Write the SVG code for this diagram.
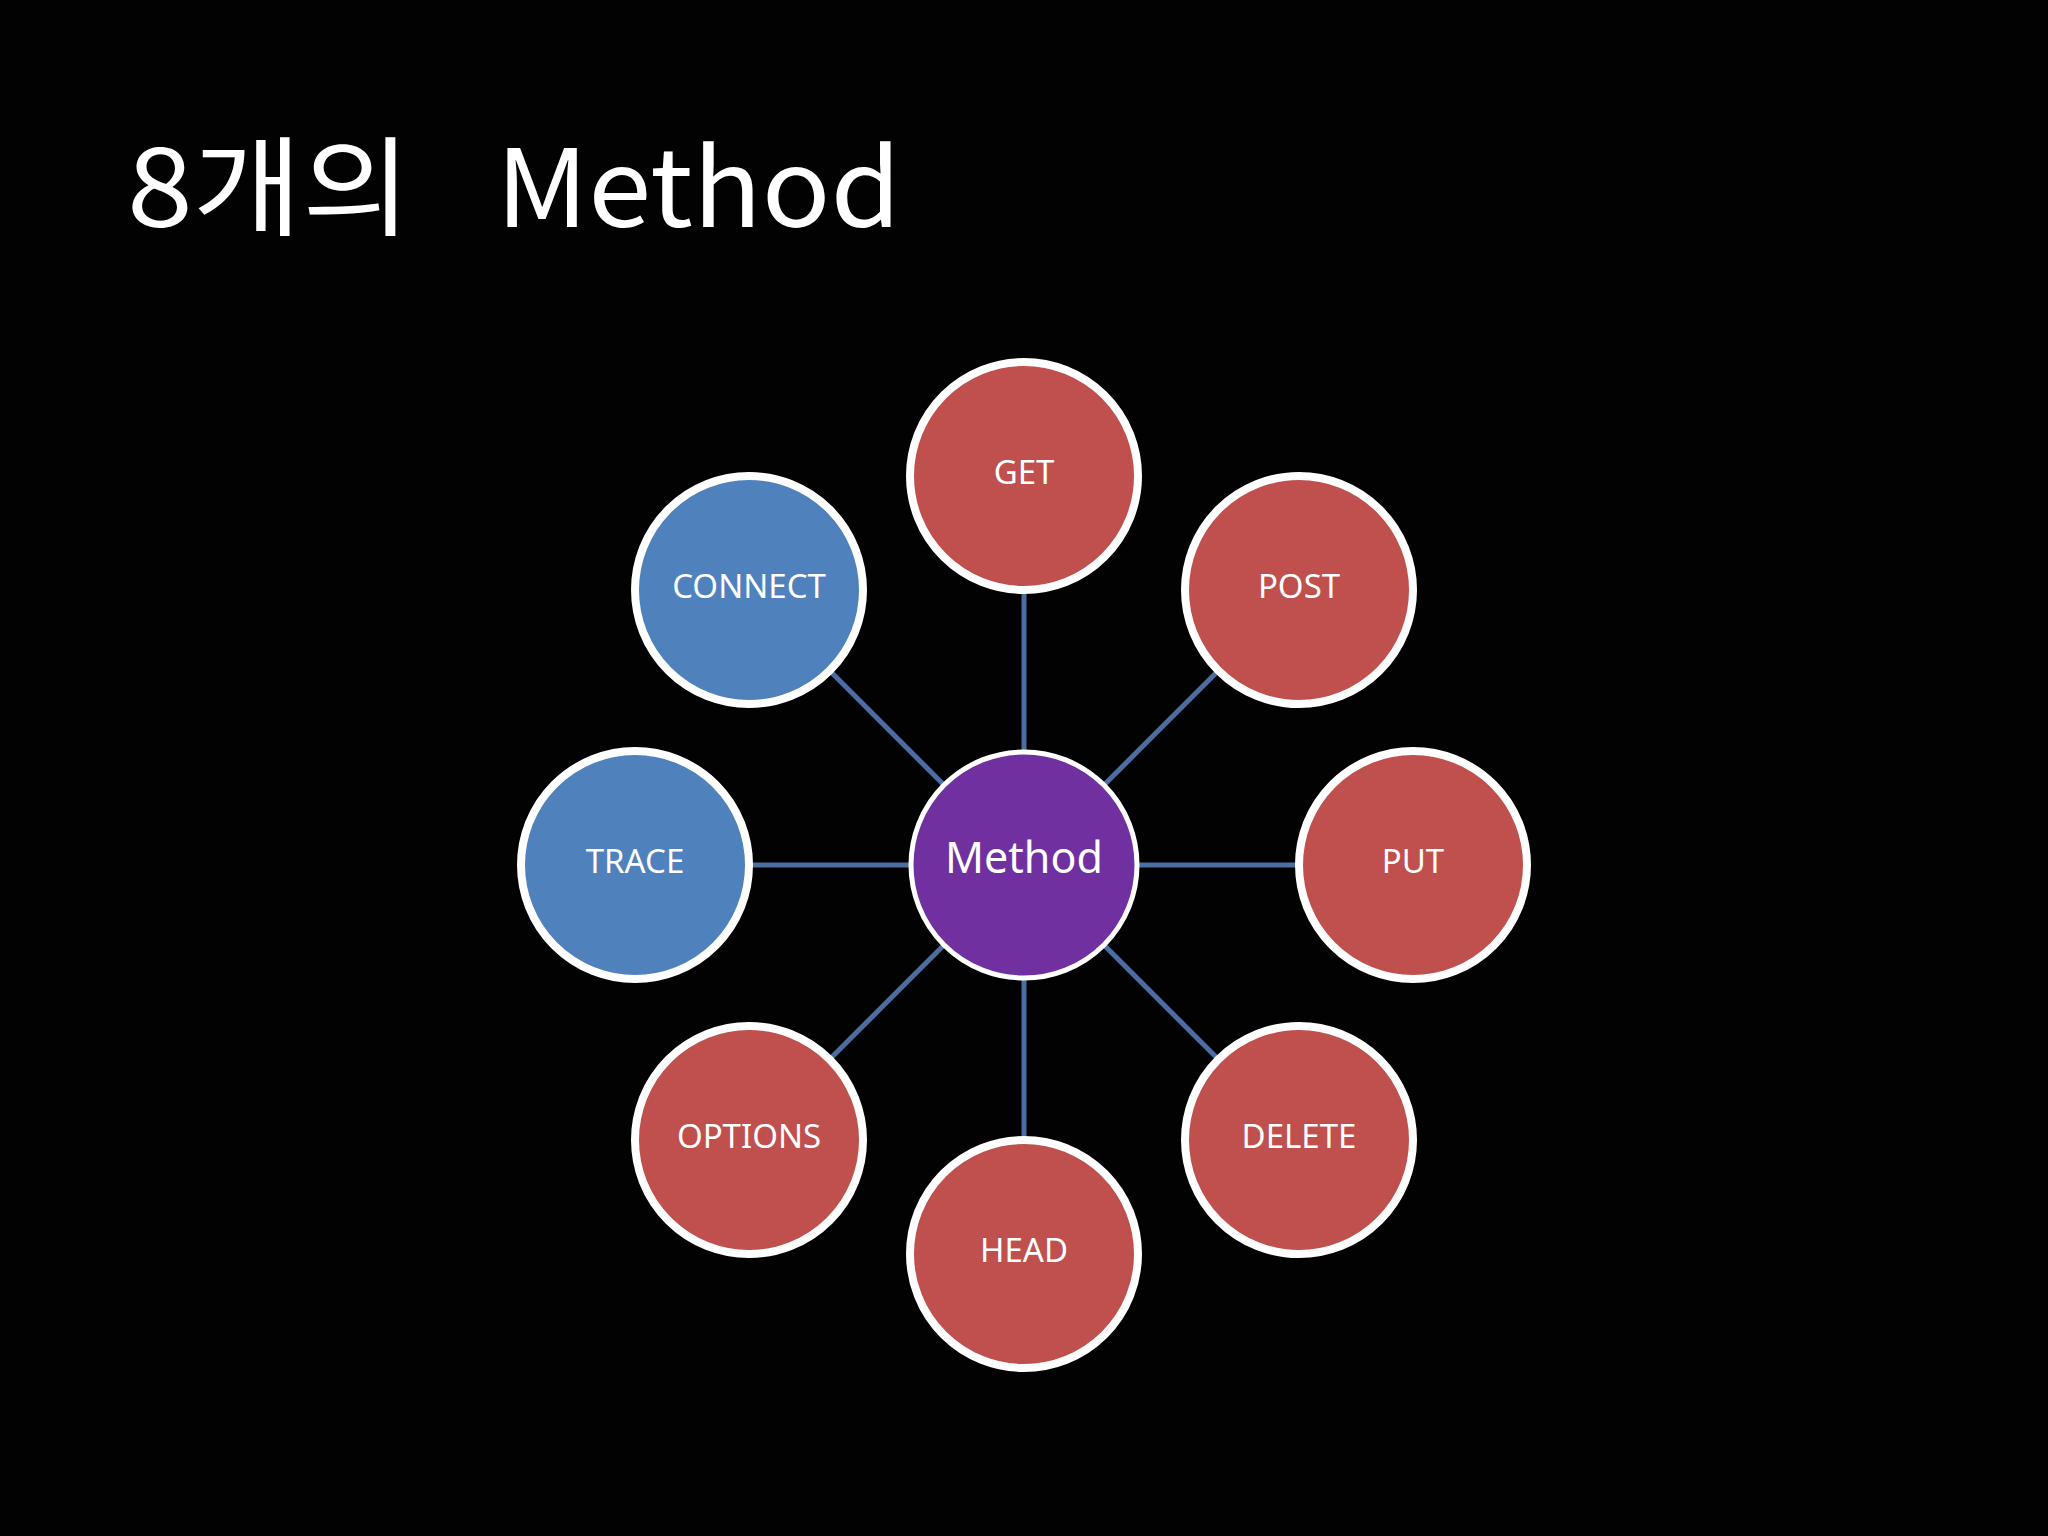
<svg xmlns="http://www.w3.org/2000/svg" width="2048" height="1536" viewBox="0 0 2048 1536">
<style>
.bg{fill:#020202}
.title{fill:#ffffff;font-family:"Noto Sans CJK KR","Noto Sans",sans-serif;font-size:108px;font-weight:400}
.red{fill:#C0504D;stroke:#ffffff;stroke-width:8}
.blue{fill:#4F81BD;stroke:#ffffff;stroke-width:8}
.purple{fill:#7030A0;stroke:#ffffff;stroke-width:5}
.lbl{fill:#ffffff;font-family:"Noto Sans","Liberation Sans",sans-serif;font-size:33px;text-anchor:middle}
.main{fill:#ffffff;font-family:"Noto Sans","Liberation Sans",sans-serif;font-size:43px;text-anchor:middle}
.conn{stroke:#4A6EA3;stroke-width:5;fill:none}
</style>
<rect class="bg" x="0" y="0" width="2048" height="1536"/>
<g id="title">
<text class="title" x="127" y="227" textLength="284" lengthAdjust="spacingAndGlyphs">8개의</text>
<text class="title" x="496" y="227" textLength="405" lengthAdjust="spacingAndGlyphs">Method</text>
</g>
<g id="connectors">
<line class="conn" x1="1024" y1="865" x2="1024" y2="477"/>
<line class="conn" x1="1024" y1="865" x2="1299" y2="590"/>
<line class="conn" x1="1024" y1="865" x2="1412" y2="865"/>
<line class="conn" x1="1024" y1="865" x2="1299" y2="1140"/>
<line class="conn" x1="1024" y1="865" x2="1024" y2="1254"/>
<line class="conn" x1="1024" y1="865" x2="749" y2="1140"/>
<line class="conn" x1="1024" y1="865" x2="635" y2="865"/>
<line class="conn" x1="1024" y1="865" x2="749" y2="590"/>
</g>
<g id="method"><circle class="purple" cx="1024" cy="865" r="113"/><text class="main" x="1024" y="873">Method</text></g>
<g id="get"><circle class="red" cx="1024" cy="476" r="114"/><text class="lbl" x="1024" y="484">GET</text></g>
<g id="post"><circle class="red" cx="1299" cy="590" r="114"/><text class="lbl" x="1299" y="598">POST</text></g>
<g id="put"><circle class="red" cx="1413" cy="865" r="114"/><text class="lbl" x="1413" y="873">PUT</text></g>
<g id="delete"><circle class="red" cx="1299" cy="1140" r="114"/><text class="lbl" x="1299" y="1148">DELETE</text></g>
<g id="head"><circle class="red" cx="1024" cy="1254" r="114"/><text class="lbl" x="1024" y="1262">HEAD</text></g>
<g id="options"><circle class="red" cx="749" cy="1140" r="114"/><text class="lbl" x="749" y="1148">OPTIONS</text></g>
<g id="trace"><circle class="blue" cx="635" cy="865" r="114"/><text class="lbl" x="635" y="873">TRACE</text></g>
<g id="connect"><circle class="blue" cx="749" cy="590" r="114"/><text class="lbl" x="749" y="598">CONNECT</text></g>
</svg>
